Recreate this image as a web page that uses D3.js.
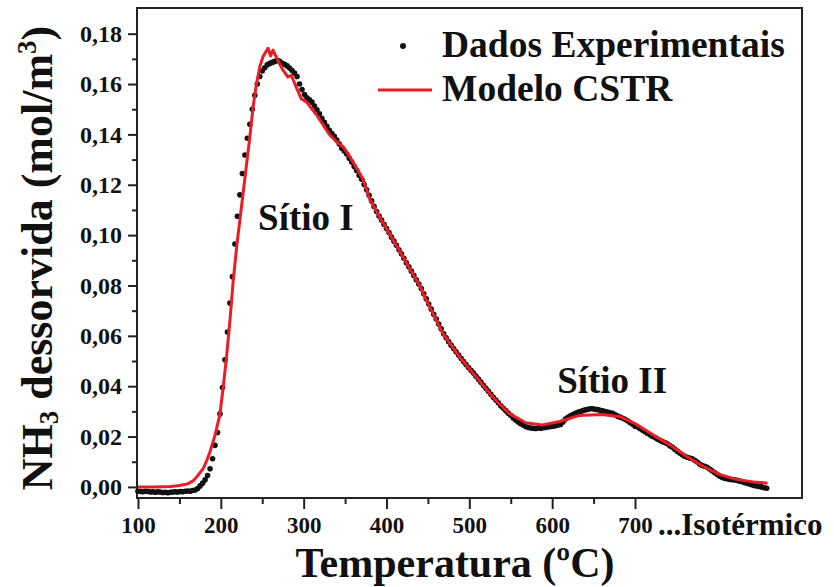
<!DOCTYPE html>
<html>
<head>
<meta charset="utf-8">
<script src="https://cdn.jsdelivr.net/npm/d3@7"></script>
<style>
  body { margin: 0; background: #fff; }
  svg { display: block; font-family: "Liberation Serif", "Times New Roman", serif; font-weight: bold; }
</style>
</head>
<body>
<script>
// experimental points [T, NH3]
var expData = [
  [100,-0.0017],[103,-0.0018],[106,-0.0019],[109,-0.0017],[112,-0.0018],[115,-0.0020],[118,-0.0019],[121,-0.0021],
  [124,-0.0019],[127,-0.0020],[130,-0.0022],[133,-0.0021],[136,-0.0023],[139,-0.0021],[142,-0.0020],[145,-0.0019],
  [148,-0.0020],[151,-0.0018],[154,-0.0019],[157,-0.0017],[160,-0.0016],[163,-0.0017],[166,-0.0014],[169,-0.0012],
  [172,-0.0006],[175,0.0004],[178,0.0015],[181,0.0028],[184,0.0045],[187,0.0072],[190,0.0112],[193,0.0165],
  [196,0.0216],[199,0.0290],[202,0.0395],[205,0.0505],[208,0.0615],[211,0.0730],[214,0.0835],[217,0.0965],
  [220,0.1075],[223,0.1160],[226,0.1245],[229,0.1318],[232,0.1385],[235,0.1440],[238,0.1500],[241,0.1555],
  [244,0.1600],[247,0.1630],[250,0.1652],[253,0.1665],[256,0.1676],[259,0.1682],[262,0.1686],[265,0.1690],
  [268,0.1694],[271,0.1690],[274,0.1682],[277,0.1678],[280,0.1672],[283,0.1664],[286,0.1654],[289,0.1644],
  [292,0.1630],[295,0.1600],[298,0.1578],[301,0.1558],[304,0.1545],[307,0.1537],[310,0.1528],[313,0.1513],
  [316,0.1498],[319,0.1482],[322,0.1464],[325,0.1448],[328,0.1432],[331,0.1416],[334,0.1403],[337,0.1392],
  [340,0.1378],[343,0.1362],[346,0.1345],[349,0.1334],[352,0.1322],[355,0.1305],[358,0.1290],[361,0.1273],
  [364,0.1257],[367,0.1238],[370,0.1222],[373,0.1201],[376,0.1180],[379,0.1158],[382,0.1136],[385,0.1114],
  [388,0.1094],[391,0.1076],[394,0.1060],[397,0.1043],[400,0.1026],[403,0.1010],[406,0.0992],[409,0.0976],
  [412,0.0960],[415,0.0942],[418,0.0926],[421,0.0908],[424,0.0890],[427,0.0874],[430,0.0857],[433,0.0840],
  [436,0.0823],[439,0.0806],[442,0.0788],[445,0.0767],[448,0.0747],[451,0.0726],[454,0.0706],[457,0.0686],
  [460,0.0667],[463,0.0647],[466,0.0628],[469,0.0608],[472,0.0592],[475,0.0577],[478,0.0563],[481,0.0550],
  [484,0.0537],[487,0.0524],[490,0.0511],[493,0.0498],[496,0.0486],[499,0.0474],[502,0.0463],[505,0.0452],
  [508,0.0440],[511,0.0428],[514,0.0416],[517,0.0404],[520,0.0392],[523,0.0380],[526,0.0368],[529,0.0356],
  [532,0.0345],[535,0.0334],[538,0.0322],[541,0.0312],[544,0.0303],[547,0.0293],[550,0.0284],[553,0.0274],
  [556,0.0266],[559,0.0258],[562,0.0251],[565,0.0246],[568,0.0240],[571,0.0236],[574,0.0234],[577,0.0233],
  [580,0.0232],[583,0.0234],[586,0.0233],[589,0.0235],[592,0.0236],[595,0.0238],[598,0.0240],[601,0.0241],
  [604,0.0243],[607,0.0246],[610,0.0248],[613,0.0258],[616,0.0270],[619,0.0276],[622,0.0282],[625,0.0287],
  [628,0.0292],[631,0.0296],[634,0.0299],[637,0.0303],[640,0.0306],[643,0.0308],[646,0.0310],[649,0.0310],
  [652,0.0308],[655,0.0307],[658,0.0304],[661,0.0302],[664,0.0299],[667,0.0297],[670,0.0294],[673,0.0292],
  [676,0.0286],[679,0.0281],[682,0.0277],[685,0.0273],[688,0.0269],[691,0.0263],[694,0.0256],[697,0.0249],
  [700,0.0241],[703,0.0238],[706,0.0232],[709,0.0225],[712,0.0219],[715,0.0213],[718,0.0207],[721,0.0201],
  [724,0.0196],[727,0.0190],[730,0.0185],[733,0.0180],[736,0.0176],[739,0.0171],[742,0.0164],[745,0.0158],
  [748,0.0150],[751,0.0142],[754,0.0135],[757,0.0128],[760,0.0122],[763,0.0118],[766,0.0115],[769,0.0112],
  [772,0.0106],[775,0.0099],[778,0.0091],[781,0.0085],[784,0.0082],[787,0.0078],[790,0.0071],[793,0.0064],
  [796,0.0057],[799,0.0050],[802,0.0043],[805,0.0038],[808,0.0034],[811,0.0032],[814,0.0030],[817,0.0029],
  [820,0.0028],[823,0.0026],[826,0.0023],[829,0.0021],[832,0.0018],[835,0.0015],[838,0.0012],[841,0.0009],
  [844,0.0006],[847,0.0004],[850,0.0002],[853,0.0000],[856,-0.0003],[859,-0.0005]
];

// CSTR model curve [T, NH3]
var modelData = [
  [100,0.0000],[120,0.0000],[140,0.0002],[150,0.0006],[160,0.0012],[167,0.0025],[171,0.0040],[179,0.0075],
  [183,0.0105],[187,0.0140],[193,0.0205],[199,0.0290],[203,0.0400],[207,0.0520],[211,0.0660],[215,0.0820],
  [219,0.0950],[223,0.1060],[227,0.1170],[231,0.1280],[235,0.1390],[239,0.1510],[243,0.1600],[247,0.1668],
  [251,0.1710],[257,0.1742],[260,0.1712],[263,0.1735],[268,0.1700],[275,0.1655],[281,0.1628],[285,0.1635],
  [291,0.1588],[297,0.1542],[303,0.1530],[315,0.1480],[331,0.1400],[340,0.1370],[348,0.1350],[356,0.1310],
  [372,0.1220],[380,0.1140],[400,0.1025],[420,0.0913],[440,0.0800],[448,0.0742],[468,0.0610],[488,0.0517],
  [508,0.0438],[528,0.0358],[548,0.0292],[568,0.0255],[588,0.0246],[609,0.0260],[633,0.0284],[660,0.0288],
  [682,0.0279],[702,0.0248],[722,0.0206],[742,0.0167],[762,0.0122],[782,0.0082],[802,0.0050],[822,0.0030],
  [843,0.0020],[860,0.0015]
];

var xMajor = [100,200,300,400,500,600,700];
var xMinor = [150,250,350,450,550,650];
var yMajor = [0,0.02,0.04,0.06,0.08,0.10,0.12,0.14,0.16,0.18];
var yMinor = [0.01,0.03,0.05,0.07,0.09,0.11,0.13,0.15,0.17];
var legendItems = ["Dados Experimentais","Modelo CSTR"];
var peakLabels = [{text:"Sítio I",T:245,v:0.102},{text:"Sítio II",T:606,v:0.0373}];

var W = 834, H = 587;
var margin = {top:8, left:137, right:32, bottom:89};
var w = W - margin.left - margin.right, h = H - margin.top - margin.bottom;

var svg = d3.select("body").append("svg").attr("width",W).attr("height",H);
svg.append("rect").attr("width",W).attr("height",H).attr("fill","#fff");
var g = svg.append("g").attr("transform","translate("+margin.left+","+margin.top+")");

var x = d3.scaleLinear().domain([98.8,901.6]).range([0,w]);
var y = d3.scaleLinear().domain([-0.0044,0.1902]).range([h,0]);

var fmt = function(d){ return d.toFixed(2).replace(".",","); };

// axes
var xAx = g.append("g").attr("transform","translate(0,"+h+")")
  .call(d3.axisBottom(x).tickValues(xMajor).tickSize(11).tickPadding(8).tickFormat(d3.format("d")));
g.append("g").attr("transform","translate(0,"+h+")")
  .call(d3.axisBottom(x).tickValues(xMinor).tickSize(6).tickFormat(""));
var yAx = g.append("g")
  .call(d3.axisLeft(y).tickValues(yMajor).tickSize(9).tickPadding(6).tickFormat(fmt));
g.append("g")
  .call(d3.axisLeft(y).tickValues(yMinor).tickSize(5).tickFormat(""));

g.selectAll(".domain").remove();
g.selectAll(".tick line").attr("stroke","#222").attr("stroke-width",2);
g.selectAll(".tick text").attr("fill","#111").style("font-family","Liberation Serif").style("font-weight","bold");
yAx.selectAll(".tick text").style("font-size","24px");
xAx.selectAll(".tick text").style("font-size","23px");

// frame
g.append("rect").attr("width",w).attr("height",h)
  .attr("fill","none").attr("stroke","#222").attr("stroke-width",2);

// data
g.append("g").selectAll("circle").data(expData).enter().append("circle")
  .attr("cx",function(d){ return x(d[0]); })
  .attr("cy",function(d){ return y(d[1]); })
  .attr("r",2.8).attr("fill","#111");

var line = d3.line().x(function(d){ return x(d[0]); }).y(function(d){ return y(d[1]); });
g.append("path").datum(modelData).attr("d",line)
  .attr("fill","none").attr("stroke","#ec1c24").attr("stroke-width",3).attr("stroke-linejoin","round");

// peak labels
g.selectAll(".peak").data(peakLabels).enter().append("text")
  .attr("x",function(d){ return x(d.T); }).attr("y",function(d){ return y(d.v); })
  .attr("font-size",37).attr("fill","#111").text(function(d){ return d.text; });

// legend
var lg = svg.append("g");
lg.append("circle").attr("cx",403).attr("cy",46).attr("r",3).attr("fill","#111");
lg.append("line").attr("x1",378).attr("x2",432).attr("y1",90).attr("y2",90)
  .attr("stroke","#ec1c24").attr("stroke-width",3);
lg.selectAll("text").data(legendItems).enter().append("text")
  .attr("x",442).attr("y",function(d,i){ return 57 + i*44; })
  .attr("font-size",37.5).attr("fill","#111").text(function(d){ return d; });

// axis titles
svg.append("text").attr("x",455).attr("y",577).attr("text-anchor","middle")
  .attr("font-size",42).attr("fill","#111").text("Temperatura (ºC)");
svg.append("text").attr("x",658).attr("y",535).attr("font-size",31).attr("fill","#111").text("...Isotérmico");

var yt = svg.append("text").attr("transform","translate(52,258) rotate(-90)")
  .attr("text-anchor","middle").attr("font-size",44).attr("fill","#111");
yt.append("tspan").text("NH");
yt.append("tspan").attr("font-size",27).attr("dy",6).text("3");
yt.append("tspan").attr("dy",-6).text(" dessorvida (mol/m");
yt.append("tspan").attr("font-size",27).attr("dy",-16).text("3");
yt.append("tspan").attr("dy",16).text(")");
</script>
</body>
</html>
